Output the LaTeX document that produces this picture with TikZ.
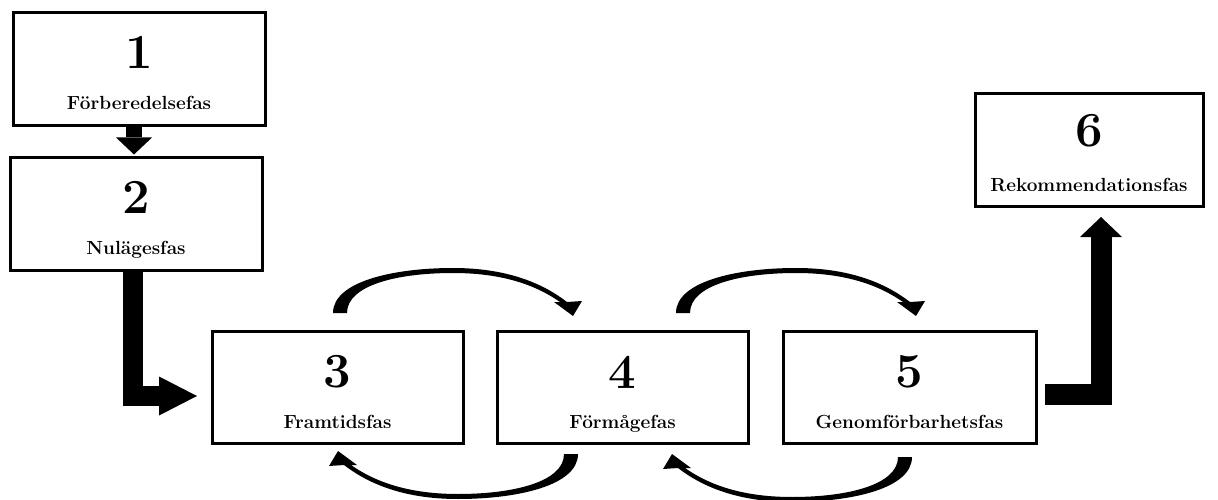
\documentclass[tikz,border=0pt]{standalone}
\usepackage{fontspec}
\usepackage{tikz}
\usetikzlibrary{positioning, arrows.meta}

\tikzset{
  phase/.style={
    rectangle,
    draw,
    line width=3pt,
    outer sep=0pt,
    minimum width=252pt,
    minimum height=113pt},
  phasenr/.style={font=\fontsize{49}{49}\selectfont\bfseries},
  phasename/.style={anchor=base, font=\fontsize{19}{21}\selectfont\bfseries},
  pics/looparrow/.style={code={
    \fill (-7,0) .. controls (-7,-32) and (55,-45) .. (113,-45)
      .. controls (170,-45) and (205,-28) .. (227,-11)
      -- (242,-12) -- (233,3) -- (214,-11) -- (220,-11)
      .. controls (200,-25) and (168,-40) .. (113,-40)
      .. controls (58,-40) and (7,-28) .. (7,0) -- cycle;
  }}
}

\begin{document}
\begin{tikzpicture}[x=1pt, y=-1pt]
  \useasboundingbox (0,0) rectangle (1218,500);

  \node[phase] (b1) at (139,69) {};
  \node[phase, below=32pt of b1, xshift=-3pt] (b2) {};
  \node[phase, minimum width=251pt, minimum height=112pt] (b3) at (337.5,387) {};
  \node[phase, right=34pt of b3, minimum width=251pt, minimum height=112pt] (b4) {};
  \node[phase, right=35pt of b4, minimum width=253pt, minimum height=112pt] (b5) {};
  \node[phase, minimum width=228pt, minimum height=112pt] (b6) at (1089,150) {};

  \node[phasenr] (n1) at ([yshift=-40pt]b1.north) {1};
  \node[phasenr] (n2) at ([yshift=-40pt]b2.north) {2};
  \node[phasenr] (n3) at ([yshift=-41pt]b3.north) {3};
  \node[phasenr] (n4) at ([yshift=-41pt]b4.north) {4};
  \node[phasenr] (n5) at ([yshift=-41pt]b5.north) {5};
  \node[phasenr] (n6) at ([yshift=-37pt]b6.north) {6};

  \node[phasename] (l1) at ([yshift=16pt]b1.south) {Förberedelsefas};
  \node[phasename] (l2) at ([yshift=16pt]b2.south) {Nulägesfas};
  \node[phasename] (l3) at ([yshift=15pt]b3.south) {Framtidsfas};
  \node[phasename] (l4) at ([yshift=15pt]b4.south) {Förmågefas};
  \node[phasename] (l5) at ([yshift=15pt]b5.south) {Genomförbarhetsfas};
  \node[phasename] (l6) at ([yshift=15pt]b6.south) {Rekommendationsfas};

  \draw[line width=16pt, -{Triangle[width=36pt, length=17pt, line width=0pt]}]
    ([xshift=-5pt]b1.south) -- ([xshift=-2pt, yshift=3pt]b2.north);
  \draw[line width=20pt, -{Triangle[width=39pt, length=38pt, line width=0pt]}]
    ([xshift=-3pt]b2.south) |- ([xshift=-15pt, yshift=-9pt]b3.west);
  \draw[line width=21pt, -{Triangle[width=42pt, length=20pt, line width=0pt]}]
    ([xshift=9pt, yshift=-7pt]b5.east) -| ([xshift=12pt, yshift=-11pt]b6.south);

  \pic (c34) at ([xshift=2.5pt, yshift=18pt]b3.north) {looparrow};
  \pic[rotate=180] (c43) at ([xshift=-51.5pt, yshift=-11pt]b4.south) {looparrow};
  \pic (c45) at ([xshift=60.5pt, yshift=18pt]b4.north) {looparrow};
  \pic[rotate=180] (c54) at ([xshift=-4.5pt, yshift=-14pt]b5.south) {looparrow};
\end{tikzpicture}
\end{document}
